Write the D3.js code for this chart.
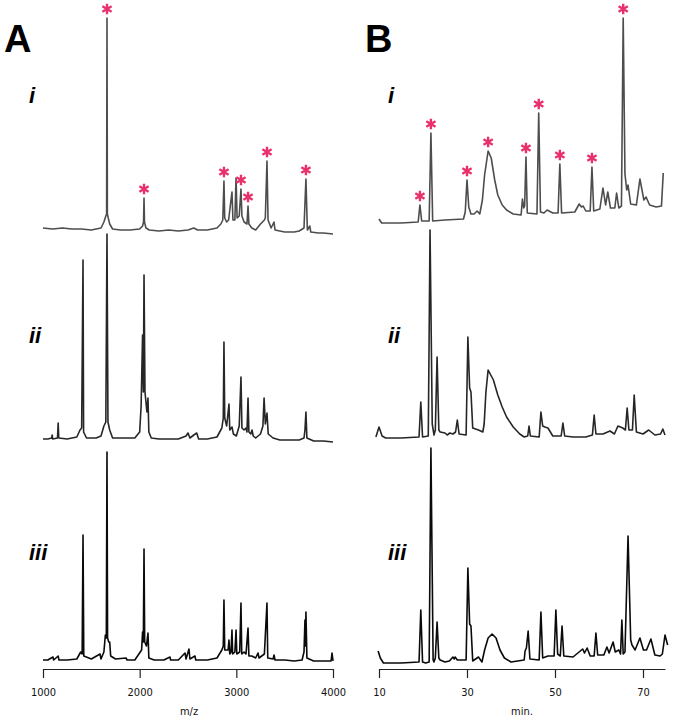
<!DOCTYPE html>
<html>
<head>
<meta charset="utf-8">
<script src="https://cdn.jsdelivr.net/npm/d3@7"></script>
<style>
  body { margin: 0; background: #fff; }
  svg { display: block; }
</style>
</head>
<body>
<div id="chart"></div>
<script>
// ticks
const mzTicks = [1000, 2000, 3000, 4000];
const minTicks = [10, 30, 50, 70];
const rowLabels = ['i', 'ii', 'iii'];
const panelLetters = ['A', 'B'];

// A: mass spectra, [m/z, relative intensity]
const traceAi = [[1000,3],[1100,2.5],[1200,3],[1300,2.5],[1400,2.5],[1500,2],[1600,3],[1630,6],[1650,9],[1658,10],[1662,108],[1666,10],[1675,8],[1690,5],[1720,2.5],[1800,2],[1900,2],[2000,2.5],[2030,4],[2040,6],[2045,18],[2050,6],[2065,3],[2100,2],[2200,1.5],[2300,2],[2400,1.5],[2500,2],[2560,3],[2600,2],[2700,2],[2800,3],[2840,5],[2860,7],[2872,26.5],[2880,8],[2900,6],[2920,7],[2955,21],[2965,7],[2985,7],[2997,28],[3008,8],[3030,9],[3048,22.5],[3058,9],[3080,6],[3110,5],[3121,14],[3130,5],[3160,3],[3200,2],[3250,5],[3290,7],[3300,8],[3317,36.5],[3328,7],[3360,3],[3390,6],[3400,2],[3500,1],[3600,1],[3650,1.5],[3700,3],[3720,27.5],[3735,2],[3760,4],[3770,1],[3850,0.5],[3900,0.5],[4000,0]];
const traceAii = [[1000,1.5],[1050,1.5],[1090,2],[1095,3.5],[1100,1.5],[1150,2],[1157,9.5],[1163,2],[1250,1.5],[1350,2.5],[1383,6],[1400,7],[1414,91],[1420,5],[1450,2],[1550,2],[1600,3],[1630,8],[1650,10],[1662,104],[1672,10],[1690,6],[1720,2],[1800,2],[1900,2],[1950,2],[2000,5],[2015,18],[2030,53.5],[2038,25],[2045,83.5],[2055,25],[2075,15],[2086,22],[2095,5],[2120,2],[2200,1.5],[2300,1.5],[2400,1.5],[2480,3],[2500,4.5],[2520,2],[2560,3.5],[2590,4.5],[2610,1.5],[2700,1.5],[2800,2.5],[2850,7],[2865,12],[2872,50],[2880,12],[2900,8],[2924,19],[2932,6],[2955,7.5],[2970,4],[3000,3],[3030,8],[3048,32.5],[3058,7],[3080,6],[3100,7],[3110,5],[3121,22],[3130,5],[3150,4],[3162,6],[3175,3],[3200,2],[3250,4],[3275,8],[3287,22],[3300,9],[3317,14.5],[3330,4],[3380,2],[3450,1],[3550,1],[3650,1],[3700,2],[3710,6],[3720,15],[3730,2],[3800,0.5],[3900,0.5],[4000,0]];
const traceAiii = [[1000,1],[1050,1],[1103,2.5],[1110,1],[1157,3],[1165,1],[1250,1],[1350,1.5],[1390,5],[1405,4],[1414,63.5],[1422,3],[1500,1.5],[1590,4],[1600,1.5],[1630,5],[1645,13.5],[1655,12],[1662,105],[1668,12],[1680,10],[1690,10],[1700,3],[1750,1.5],[1859,2],[1870,1],[1950,1],[2020,6],[2030,15],[2038,10],[2045,56.5],[2052,10],[2070,8],[2086,14.5],[2095,2],[2150,1],[2250,1],[2314,2.5],[2320,1],[2400,1],[2469,4.5],[2480,1.5],[2510,6.5],[2520,1.5],[2572,3],[2580,1],[2700,1],[2800,2],[2850,6],[2865,8],[2872,31],[2880,6],[2915,6],[2924,11],[2932,4],[2945,5],[2955,16],[2962,4],[2985,5],[2997,16],[3005,4],[3035,5],[3048,29.5],[3056,4],[3080,5],[3100,4],[3121,17],[3130,3],[3160,3],[3200,2],[3224,4.5],[3235,2],[3290,4],[3317,29.5],[3325,2],[3380,1.5],[3390,3.5],[3400,1],[3500,1],[3600,0.5],[3680,1],[3700,5],[3710,21],[3715,8],[3720,25],[3730,2],[3800,0.5],[3900,0.5],[3980,0.5],[3990,4.5],[4000,0.5]];

// B: chromatograms, [min, relative intensity]
const traceBi = [[10,2.5],[10.6,0.5],[15,0.5],[18.9,1],[19.3,9.5],[19.7,1.5],[21.4,1.5],[21.8,45.5],[22.2,1.5],[25,2],[29.2,2.5],[29.6,6],[30,22],[30.4,8.5],[30.9,5],[31.6,5],[32.3,6.5],[32.9,5],[33.5,12],[34,24.5],[34.8,36.5],[35.5,33],[36.3,22],[37,14.5],[38,9.5],[39,7],[40.5,5],[42.3,4.5],[42.6,12.5],[42.9,8],[43.1,9],[43.4,33.5],[43.7,5.5],[45.9,5],[46.3,55.5],[46.7,6],[47.5,5.5],[48.2,7],[49.5,5.5],[50.7,5.5],[51.1,30],[51.5,5.5],[54.5,6],[55.5,10],[56,8.5],[56.4,9],[57,6.5],[58,6.5],[58.4,28.5],[58.8,6.5],[60.2,7.5],[60.9,18],[61.5,9.5],[62,16],[62.6,8],[63.6,8],[64,15.5],[64.5,8],[65.1,9],[65.5,103],[65.9,25],[66.3,17],[66.6,19.5],[67.2,10],[68.5,9.5],[69.3,22.5],[70.2,12],[70.7,13.5],[71.5,9.5],[73,8.5],[74.2,9],[74.6,25.5]];
const traceBii = [[9.3,1.5],[10,6.5],[10.7,2],[11.5,1],[15,1],[19.1,1.5],[19.5,19],[19.9,1.5],[21.2,2],[21.6,105],[22.1,8],[22.5,2.5],[22.8,5],[23.2,41.5],[23.6,5],[23.9,4],[25,3.5],[25.5,2.5],[26.1,3.5],[26.8,3],[27.4,4],[27.8,10],[28.2,3],[29.8,2.5],[30.2,51.5],[30.6,26],[30.9,24],[31.3,6],[32.6,5],[33.6,4],[33.9,8],[34.3,24],[34.8,35],[36,30],[37,22.5],[38,16.5],[39,11.5],[40.5,6.5],[42,3],[43,1.5],[43.8,2],[44.1,7],[44.4,2],[46.4,1.5],[46.8,14],[47.2,7],[47.7,6.5],[48.4,6],[49.5,2],[51.4,2],[51.8,8.5],[52.2,2],[54.1,1.5],[57,1.5],[58.5,2.5],[58.9,12.5],[59.3,3],[60.9,3],[62.5,4.5],[63.5,3],[64.3,7],[65.4,6],[66,5],[66.4,16],[66.8,5],[67.6,5],[68,22.5],[68.5,4],[70,3],[71.3,5],[72.7,2.5],[74,3],[74.5,5.5],[75,2.5]];
const traceBiii = [[9.8,6.5],[10.3,3],[11,0.5],[15,0.5],[19.1,1],[19.5,27],[19.9,1],[20.6,0.5],[21.4,1],[21.8,108],[22.3,2],[22.5,1],[22.8,3],[23.2,21],[23.6,3],[23.9,2],[25,1],[26,1.5],[26.8,3.5],[27.1,2.5],[27.3,3.5],[27.8,2],[29.8,2],[30.2,48],[30.6,20],[30.9,19],[31.3,1.5],[32.6,3.5],[33.4,1],[34,7],[34.8,13],[35.7,15],[36.6,13],[37.5,7],[38.5,3],[40,1],[43,2],[43.2,6.5],[43.5,8],[43.9,16.5],[44.3,2.5],[46.4,2],[46.8,26],[47.2,3],[48.4,4],[49.8,4],[50.2,27],[50.6,5],[51.2,4],[51.6,19],[52,4],[54.1,3.5],[56.3,7.5],[56.7,5.5],[57.3,8],[58,4],[58.9,4],[59.3,15.5],[59.7,4.5],[61.1,4.5],[61.8,8.5],[62.3,5.5],[63.2,11],[63.7,6],[64.5,7],[64.9,5],[65.2,22],[65.5,5],[65.9,6],[66.6,64],[67.2,12],[67.5,9.5],[68.2,7],[69.3,13],[70.1,7],[70.8,7],[71.8,12.5],[72.7,4.5],[73.9,4],[74.4,5],[75,14.5],[75.6,9.5]];

// marked peaks in trace i
const starsA = [1662, 2045, 2872, 3048, 3121, 3317, 3720];
const starsB = [19.3, 21.8, 30, 34.8, 43.4, 46.3, 51.1, 58.4, 65.5];

const width = 675;
const height = 721;
const pink = '#e8306b';

const svg = d3.select('#chart')
  .append('svg')
  .attr('width', width)
  .attr('height', height);

const xA = d3.scaleLinear().domain([1000, 4000]).range([43, 333]);
const xB = d3.scaleLinear().domain([10, 75]).range([379, 665]);

const panels = [
  { x: xA, traces: [traceAi, traceAii, traceAiii], bases: [234, 442, 662], stars: starsA,
    ticks: mzTicks, title: 'm/z', titleX: 189, letterX: 4, labelX: 29 },
  { x: xB, traces: [traceBi, traceBii, traceBiii], bases: [224, 440, 664], stars: starsB,
    ticks: minTicks, title: 'min.', titleX: 522, letterX: 365, labelX: 388 },
];
const colors = ['#4d4d4d', '#262626', '#0a0a0a'];
const labelY = [103, 343, 560];

panels.forEach((p, pi) => {
  const g = svg.append('g');

  p.traces.forEach((trace, ti) => {
    const y = d3.scaleLinear().domain([0, 100]).range([p.bases[ti], p.bases[ti] - 200]);
    const line = d3.line().x(d => p.x(d[0])).y(d => y(d[1]));

    g.append('path')
      .datum(trace)
      .attr('fill', 'none')
      .attr('stroke', colors[ti])
      .attr('stroke-width', 1.6)
      .attr('stroke-linejoin', 'round')
      .attr('d', line);

    if (ti === 0) {
      g.selectAll('.star')
        .data(p.stars)
        .enter()
        .append('path')
        .attr('class', 'star')
        .attr('transform', (s) => {
          const pt = trace.find(d => d[0] === s);
          return `translate(${p.x(s)},${y(pt[1]) - 9})`;
        })
        .attr('d', d3.symbol(d3.symbolAsterisk, 80))
        .attr('fill', 'none')
        .attr('stroke', pink)
        .attr('stroke-width', 2.4);
    }

    g.append('text')
      .attr('x', p.labelX)
      .attr('y', labelY[ti])
      .attr('font-family', 'Liberation Sans, Arial, sans-serif')
      .attr('font-weight', 'bold')
      .attr('font-style', 'italic')
      .attr('font-size', 22)
      .text(rowLabels[ti]);
  });

  g.append('text')
    .attr('x', p.letterX)
    .attr('y', 52)
    .attr('font-family', 'Liberation Sans, Arial, sans-serif')
    .attr('font-weight', 'bold')
    .attr('font-size', 38)
    .text(panelLetters[pi]);

  const axis = g.append('g')
    .attr('transform', 'translate(0,669)')
    .call(d3.axisBottom(p.x).tickValues(p.ticks).tickFormat(d3.format('d'))
      .tickSize(9).tickSizeOuter(0).tickPadding(10));
  axis.select('.domain').attr('stroke', '#222').attr('stroke-width', 1.2);
  axis.selectAll('.tick line').attr('stroke', '#222').attr('stroke-width', 1.2);
  axis.selectAll('.tick text')
    .attr('font-family', 'Liberation Sans Narrow, DejaVu Sans Condensed, sans-serif')
    .attr('font-size', 11)
    .attr('fill', '#111');

  g.append('text')
    .attr('x', p.titleX)
    .attr('y', 715)
    .attr('text-anchor', 'middle')
    .attr('font-family', 'Liberation Sans Narrow, DejaVu Sans Condensed, sans-serif')
    .attr('font-size', 11)
    .attr('fill', '#111')
    .text(p.title);
});
</script>
</body>
</html>
